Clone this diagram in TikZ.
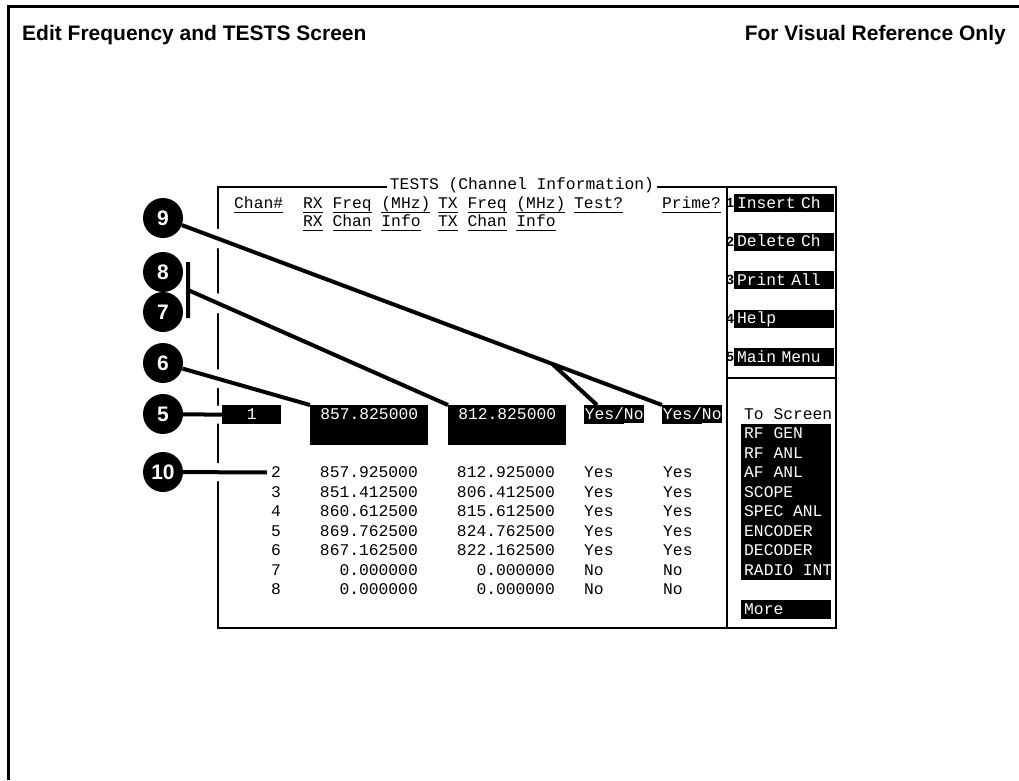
\documentclass[tikz,border=0pt]{standalone}
\usepackage{fontspec}
\setmainfont{Liberation Sans}
\newfontfamily\scrfont{Liberation Mono}
\usetikzlibrary{positioning,calc}
\pgfdeclarelayer{back}
\pgfdeclarelayer{lead}
\pgfsetlayers{back,lead,main}
\newcommand*{\ul}[1]{\setbox0\hbox{#1}\rlap{\rule[-5pt]{\wd0}{1.5pt}}\box0\relax}
\newcommand*{\scrsize}{\fontsize{16.3}{19.5}\selectfont}

\begin{document}
\begin{tikzpicture}[x=1pt,y=-1pt,inner sep=0pt,on grid,
    scr/.style={font=\scrfont\scrsize},
    lbl/.style={scr,anchor=base west},
    val/.style={scr,anchor=base east},
    field/.style={scr,fill=black,text=white,anchor=north west,
      text height=14.4pt,text depth=4.6pt},
    tall/.style={text depth=25.6pt},
    menu/.style={field,text width=84pt,align=left,inner xsep=3pt},
    softkey/.style={scr,fill=black,text=white,text width=94pt,align=left,
      inner xsep=3pt,text height=14.4pt,text depth=3.6pt},
    keynum/.style={font=\scrfont\bfseries\fontsize{14}{14}\selectfont},
    callout/.style={circle,fill=black,text=white,minimum size=40pt,
      font=\bfseries\fontsize{21}{21}\selectfont},
    leader/.style={line width=4pt,preaction={draw=white,line width=18pt}}]
    \useasboundingbox (0,0) rectangle (1019,780);
    \begin{pgfonlayer}{back}
        \draw[line width=3pt] (8.5,780) -- (8.5,6.5) -- (1019,6.5);
        \draw[line width=1.5pt] (727,187) -- (218,187) -- (218,628) -- (727,628);
        \draw[line width=1.5pt] (727,187) rectangle (836,628);
        \draw[line width=1.5pt] (727,378) -- (836,378);
    \end{pgfonlayer}
    \node[font=\bfseries\fontsize{21}{24}\selectfont,anchor=base west] (head) at (22,40) {Edit Frequency and TESTS Screen};
    \node[font=\bfseries\fontsize{21}{24}\selectfont,anchor=base east] (note) at (1006,40) {For Visual Reference Only};
    \node[scr,fill=white,inner xsep=3pt,inner ysep=2pt,anchor=base] (title) at (522,189) {TESTS (Channel Information)};

    \node[lbl] (hchan) at (234,208.4) {\ul{Chan\#}};
    \node[lbl] (hrx) at (303,208.4) {\ul{RX} \ul{Freq} \ul{(MHz)}};
    \node[lbl] (htx) at (438,208.4) {\ul{TX} \ul{Freq} \ul{(MHz)}};
    \node[lbl] (htest) at (574,208.4) {\ul{Test?}};
    \node[val] (hprime) at (721,208.4) {\ul{Prime?}};
    \node[lbl] (hrxi) at (303,226.4) {\ul{RX} \ul{Chan} \ul{Info}};
    \node[lbl] (htxi) at (438,226.4) {\ul{TX} \ul{Chan} \ul{Info}};

    \node[field,minimum width=59pt] (f1) at (222,405) {1};
    \node[field,tall,minimum width=118pt] (frx) at (310,405) {857.825000};
    \node[field,tall,minimum width=118pt] (ftx) at (448,405) {812.825000};
    \node[field,minimum width=60pt] (ftest) at (584,405) {Yes/\ul{No}};
    \node[field,minimum width=60pt] (fprime) at (662,405) {Yes/\ul{No}};

    \foreach \ch/\rx/\tx/\tst/\prm [count=\i from 0] in {
        2/857.925000/812.925000/Yes/Yes,
        3/851.412500/806.412500/Yes/Yes,
        4/860.612500/815.612500/Yes/Yes,
        5/869.762500/824.762500/Yes/Yes,
        6/867.162500/822.162500/Yes/Yes,
        7/0.000000/0.000000/No/No,
        8/0.000000/0.000000/No/No}
    {
        \node[val] (chan\ch) at (281,{477.9+19.5*\i}) {\ch};
        \node[val] (rx\ch) at (418,{477.9+19.5*\i}) {\rx};
        \node[val] (tx\ch) at (555,{477.9+19.5*\i}) {\tx};
        \node[lbl] (test\ch) at (584,{477.9+19.5*\i}) {\tst};
        \node[lbl] (prime\ch) at (663,{477.9+19.5*\i}) {\prm};
    }

    \node[softkey] (sk1) at (784,203) {Insert Ch};
    \node[softkey] (sk2) [below=38.5pt of sk1] {Delete Ch};
    \node[softkey] (sk3) [below=38.5pt of sk2] {Print All};
    \node[softkey] (sk4) [below=38.5pt of sk3] {Help};
    \node[softkey] (sk5) [below=38.5pt of sk4] {Main Menu};
    \foreach \k in {1,...,5}
        \node[keynum] (kn\k) [left=54pt of sk\k] {\k};

    \node[lbl] (toscr) at (744,419.4) {To Screen};
    \node[fill=black,anchor=north west,minimum width=90pt,minimum height=156pt] (scrlist) at (741,424) {};
    \foreach \s [count=\i] in {RF GEN,RF ANL,AF ANL,SCOPE,SPEC ANL,ENCODER,DECODER,RADIO INT}
        \node[lbl,text=white] (scr\i) at (744,{419.4+19.5*\i}) {\s};
    \node[menu] (more) at (741,600) {More};

    \node[callout] (c9) at (163,218) {9};
    \node[callout] (c8) at (163,272) {8};
    \node[callout] (c7) at (163,312) {7};
    \node[callout] (c6) at (163,363) {6};
    \node[callout] (c5) at (163,414) {5};
    \node[callout] (c10) at (163,472) {10};
    \coordinate (brk top) at (188,262);
    \coordinate (brk bot) at (188,318);
    \coordinate (brk mid) at (188,290);
    \coordinate (fork) at ($(c9)!0.78!(fprime.north west)$);

    \begin{pgfonlayer}{lead}
        \draw[leader] (c5) -- (f1.west);
        \draw[leader] (c10) -- ([xshift=-4pt]chan2.west);
        \draw[leader] (c6) -- (frx.north west);
        \draw[leader] (brk top) -- (brk bot) (brk mid) -- (ftx.north west);
        \draw[leader] (c9) -- (fprime.north west) (fork) -- ([xshift=13pt]ftest.north west);
    \end{pgfonlayer}
\end{tikzpicture}
\end{document}
